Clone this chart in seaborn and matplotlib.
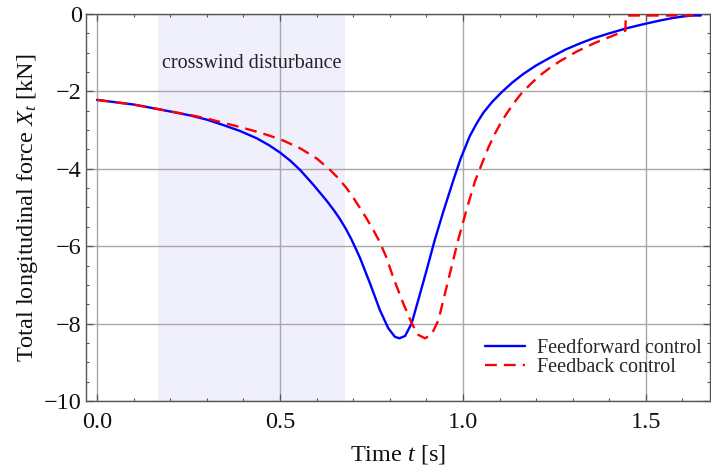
import matplotlib
matplotlib.use("Agg")
import matplotlib.pyplot as plt
import seaborn as sns
import pandas as pd
from matplotlib.ticker import MultipleLocator

# Feedforward control: total longitudinal force over time
t_ff = [0.000, 0.100, 0.168, 0.254, 0.300, 0.345, 0.390, 0.436, 0.470, 0.500,
        0.528, 0.555, 0.591, 0.628, 0.648, 0.664, 0.680, 0.695, 0.708, 0.719,
        0.746, 0.773, 0.796, 0.814, 0.826, 0.842, 0.860, 0.878, 0.901, 0.923,
        0.946, 0.974, 0.994, 1.019, 1.038, 1.056, 1.080, 1.106, 1.135, 1.165,
        1.200, 1.238, 1.280, 1.320, 1.356, 1.400, 1.447, 1.495, 1.538, 1.570,
        1.597, 1.625, 1.650]
x_ff = [-2.22, -2.34, -2.46, -2.62, -2.73, -2.87, -3.02, -3.21, -3.39, -3.58,
        -3.79, -4.03, -4.41, -4.83, -5.08, -5.30, -5.55, -5.82, -6.08, -6.31,
        -6.96, -7.65, -8.12, -8.34, -8.38, -8.32, -7.99, -7.39, -6.61, -5.84,
        -5.12, -4.29, -3.73, -3.15, -2.82, -2.55, -2.27, -2.02, -1.77, -1.55,
        -1.33, -1.13, -0.92, -0.76, -0.63, -0.50, -0.37, -0.26, -0.17, -0.11,
        -0.07, -0.04, -0.04]

# Feedback control
t_fb = [0.000, 0.100, 0.168, 0.254, 0.300, 0.345, 0.390, 0.436, 0.470, 0.509,
        0.555, 0.600, 0.637, 0.660, 0.682, 0.700, 0.719, 0.737, 0.755, 0.772,
        0.790, 0.810, 0.837, 0.860, 0.878, 0.896, 0.914, 0.933, 0.951, 0.969,
        0.987, 1.010, 1.033, 1.056, 1.070, 1.087, 1.103, 1.119, 1.140, 1.160,
        1.185, 1.210, 1.238, 1.265, 1.311, 1.360, 1.402, 1.444, 1.445, 1.630]
x_fb = [-2.22, -2.34, -2.46, -2.61, -2.70, -2.81, -2.92, -3.04, -3.14, -3.27,
        -3.47, -3.73, -4.03, -4.25, -4.50, -4.74, -5.02, -5.29, -5.58, -5.88,
        -6.27, -6.82, -7.48, -7.99, -8.29, -8.38, -8.29, -7.91, -7.22, -6.53,
        -5.84, -5.05, -4.32, -3.77, -3.44, -3.10, -2.82, -2.58, -2.29, -2.05,
        -1.81, -1.59, -1.39, -1.22, -0.97, -0.75, -0.59, -0.43, -0.04, -0.04]

# Crosswind disturbance interval [s]
gust_start, gust_end = 0.167, 0.677

x_ticks = [0.0, 0.5, 1.0, 1.5]
x_tick_labels = ["0.0", "0.5", "1.0", "1.5"]
y_ticks = [0, -2, -4, -6, -8, -10]
y_tick_labels = ["0", "\u22122", "\u22124", "\u22126", "\u22128", "\u221210"]

sns.set_style("ticks")
plt.rcParams["font.family"] = ["Liberation Serif", "DejaVu Serif"]
plt.rcParams["mathtext.fontset"] = "custom"
plt.rcParams["mathtext.rm"] = "Liberation Serif"
plt.rcParams["mathtext.it"] = "Liberation Serif:italic"

df_ff = pd.DataFrame({"t": t_ff, "X": x_ff})
df_fb = pd.DataFrame({"t": t_fb, "X": x_fb})

fig = plt.figure(figsize=(7.11, 4.66), dpi=100)
ax = fig.add_axes([0.121, 0.1395, 0.8775, 0.8305])

ax.axvspan(gust_start, gust_end, color="#f0f0fd", zorder=0, lw=0)
ax.grid(True, which="major", color="#a8a8a8", lw=1.0, zorder=1)

sns.lineplot(data=df_ff, x="t", y="X", ax=ax, color="#0000ff", lw=1.7,
             sort=False, estimator=None, label="Feedforward control", zorder=3)
sns.lineplot(data=df_fb, x="t", y="X", ax=ax, color="#ff0000", lw=1.7,
             sort=False, estimator=None, label="Feedback control", zorder=4,
             linestyle=(0, (5.0, 3.0)))

ax.text((gust_start + gust_end) / 2, -1.27, "crosswind disturbance",
        ha="center", va="center", fontsize=14.5, color="#222222")

ax.set_xlim(-0.03, 1.675)
ax.set_ylim(-10, 0)
ax.set_xticks(x_ticks)
ax.set_xticklabels(x_tick_labels)
ax.set_yticks(y_ticks)
ax.set_yticklabels(y_tick_labels)
ax.xaxis.set_minor_locator(MultipleLocator(0.1))
ax.yaxis.set_minor_locator(MultipleLocator(0.5))
ax.tick_params(which="both", direction="in", top=True, right=True,
               color="#555555", labelsize=17.5, labelcolor="#111111")
ax.tick_params(which="major", length=5, width=0.9)
ax.tick_params(which="minor", length=2.5, width=0.8)
ax.tick_params(axis="x", pad=8)
ax.tick_params(axis="y", pad=3)
for sp in ax.spines.values():
    sp.set_color("#555555")
    sp.set_linewidth(1.0)
    sp.set_visible(True)

ax.set_xlabel("Time $t$ [s]", fontsize=17.5, labelpad=7, color="#111111")
ax.set_ylabel("Total longitudinal force $X_t$ [kN]", fontsize=17.5,
              labelpad=3, color="#111111")

leg = ax.legend(loc="center left", bbox_to_anchor=(0.639, 0.112),
                frameon=False, fontsize=14.5, handlelength=2.0,
                handletextpad=0.6, labelspacing=0.0, borderpad=0,
                borderaxespad=0)

fig.savefig("out.png", dpi=100)
